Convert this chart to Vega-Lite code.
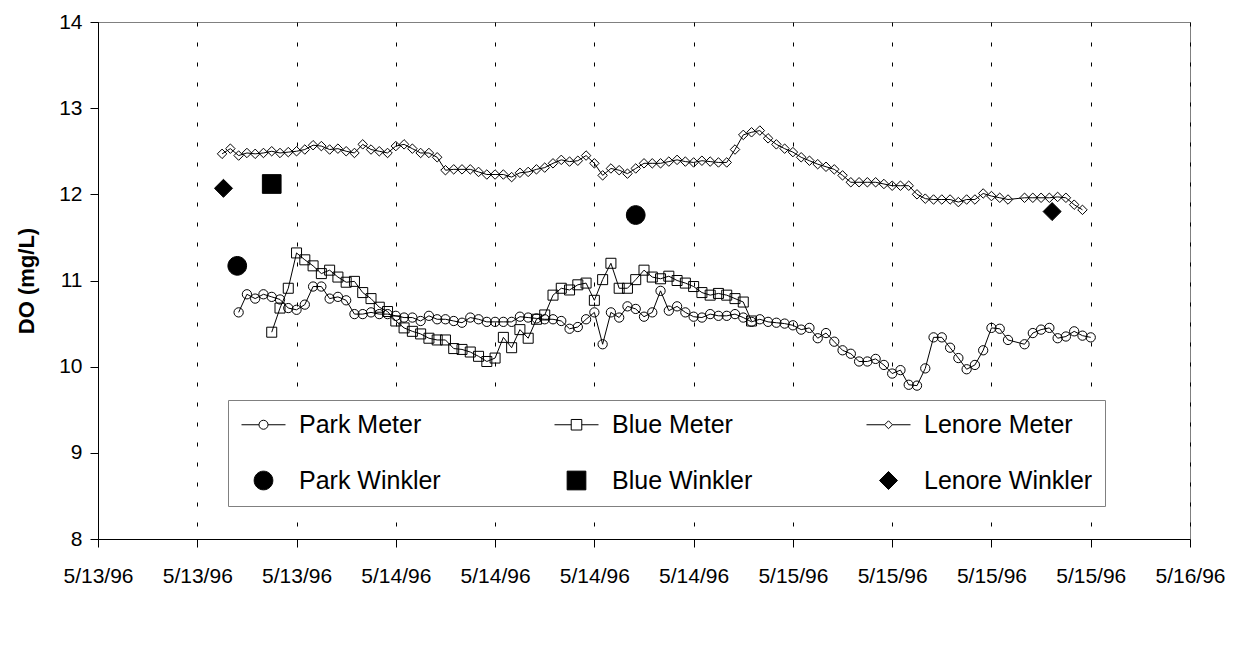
{
  "$schema": "https://vega.github.io/schema/vega-lite/v6.json",
  "width": 1092,
  "height": 517,
  "autosize": {"type": "none"},
  "padding": {"left": 98, "top": 22, "right": 46, "bottom": 106},
  "background": "white",
  "config": {
    "font": "Liberation Sans",
    "view": {"stroke": "#808080", "strokeWidth": 1}
  },
  "datasets": {
    "meter": [
      {"t": "1996-05-13T13:30", "v": 12.47, "s": "Lenore Meter"},
      {"t": "1996-05-13T14:00", "v": 12.53, "s": "Lenore Meter"},
      {"t": "1996-05-13T14:30", "v": 12.45, "s": "Lenore Meter"},
      {"t": "1996-05-13T15:00", "v": 12.48, "s": "Lenore Meter"},
      {"t": "1996-05-13T15:30", "v": 12.47, "s": "Lenore Meter"},
      {"t": "1996-05-13T16:00", "v": 12.48, "s": "Lenore Meter"},
      {"t": "1996-05-13T16:30", "v": 12.50, "s": "Lenore Meter"},
      {"t": "1996-05-13T17:00", "v": 12.48, "s": "Lenore Meter"},
      {"t": "1996-05-13T17:30", "v": 12.49, "s": "Lenore Meter"},
      {"t": "1996-05-13T18:00", "v": 12.50, "s": "Lenore Meter"},
      {"t": "1996-05-13T18:30", "v": 12.52, "s": "Lenore Meter"},
      {"t": "1996-05-13T19:00", "v": 12.57, "s": "Lenore Meter"},
      {"t": "1996-05-13T19:30", "v": 12.56, "s": "Lenore Meter"},
      {"t": "1996-05-13T20:00", "v": 12.52, "s": "Lenore Meter"},
      {"t": "1996-05-13T20:30", "v": 12.53, "s": "Lenore Meter"},
      {"t": "1996-05-13T21:00", "v": 12.50, "s": "Lenore Meter"},
      {"t": "1996-05-13T21:30", "v": 12.48, "s": "Lenore Meter"},
      {"t": "1996-05-13T22:00", "v": 12.58, "s": "Lenore Meter"},
      {"t": "1996-05-13T22:30", "v": 12.52, "s": "Lenore Meter"},
      {"t": "1996-05-13T23:00", "v": 12.50, "s": "Lenore Meter"},
      {"t": "1996-05-13T23:30", "v": 12.48, "s": "Lenore Meter"},
      {"t": "1996-05-14T00:00", "v": 12.56, "s": "Lenore Meter"},
      {"t": "1996-05-14T00:30", "v": 12.58, "s": "Lenore Meter"},
      {"t": "1996-05-14T01:00", "v": 12.53, "s": "Lenore Meter"},
      {"t": "1996-05-14T01:30", "v": 12.48, "s": "Lenore Meter"},
      {"t": "1996-05-14T02:00", "v": 12.48, "s": "Lenore Meter"},
      {"t": "1996-05-14T02:30", "v": 12.43, "s": "Lenore Meter"},
      {"t": "1996-05-14T03:00", "v": 12.28, "s": "Lenore Meter"},
      {"t": "1996-05-14T03:30", "v": 12.29, "s": "Lenore Meter"},
      {"t": "1996-05-14T04:00", "v": 12.29, "s": "Lenore Meter"},
      {"t": "1996-05-14T04:30", "v": 12.29, "s": "Lenore Meter"},
      {"t": "1996-05-14T05:00", "v": 12.26, "s": "Lenore Meter"},
      {"t": "1996-05-14T05:30", "v": 12.23, "s": "Lenore Meter"},
      {"t": "1996-05-14T06:00", "v": 12.23, "s": "Lenore Meter"},
      {"t": "1996-05-14T06:30", "v": 12.23, "s": "Lenore Meter"},
      {"t": "1996-05-14T07:00", "v": 12.20, "s": "Lenore Meter"},
      {"t": "1996-05-14T07:30", "v": 12.25, "s": "Lenore Meter"},
      {"t": "1996-05-14T08:00", "v": 12.26, "s": "Lenore Meter"},
      {"t": "1996-05-14T08:30", "v": 12.29, "s": "Lenore Meter"},
      {"t": "1996-05-14T09:00", "v": 12.31, "s": "Lenore Meter"},
      {"t": "1996-05-14T09:30", "v": 12.36, "s": "Lenore Meter"},
      {"t": "1996-05-14T10:00", "v": 12.40, "s": "Lenore Meter"},
      {"t": "1996-05-14T10:30", "v": 12.38, "s": "Lenore Meter"},
      {"t": "1996-05-14T11:00", "v": 12.39, "s": "Lenore Meter"},
      {"t": "1996-05-14T11:30", "v": 12.45, "s": "Lenore Meter"},
      {"t": "1996-05-14T12:00", "v": 12.36, "s": "Lenore Meter"},
      {"t": "1996-05-14T12:30", "v": 12.22, "s": "Lenore Meter"},
      {"t": "1996-05-14T13:00", "v": 12.30, "s": "Lenore Meter"},
      {"t": "1996-05-14T13:30", "v": 12.28, "s": "Lenore Meter"},
      {"t": "1996-05-14T14:00", "v": 12.24, "s": "Lenore Meter"},
      {"t": "1996-05-14T14:30", "v": 12.30, "s": "Lenore Meter"},
      {"t": "1996-05-14T15:00", "v": 12.36, "s": "Lenore Meter"},
      {"t": "1996-05-14T15:30", "v": 12.36, "s": "Lenore Meter"},
      {"t": "1996-05-14T16:00", "v": 12.36, "s": "Lenore Meter"},
      {"t": "1996-05-14T16:30", "v": 12.38, "s": "Lenore Meter"},
      {"t": "1996-05-14T17:00", "v": 12.40, "s": "Lenore Meter"},
      {"t": "1996-05-14T17:30", "v": 12.38, "s": "Lenore Meter"},
      {"t": "1996-05-14T18:00", "v": 12.37, "s": "Lenore Meter"},
      {"t": "1996-05-14T18:30", "v": 12.39, "s": "Lenore Meter"},
      {"t": "1996-05-14T19:00", "v": 12.38, "s": "Lenore Meter"},
      {"t": "1996-05-14T19:30", "v": 12.37, "s": "Lenore Meter"},
      {"t": "1996-05-14T20:00", "v": 12.37, "s": "Lenore Meter"},
      {"t": "1996-05-14T20:30", "v": 12.52, "s": "Lenore Meter"},
      {"t": "1996-05-14T21:00", "v": 12.69, "s": "Lenore Meter"},
      {"t": "1996-05-14T21:30", "v": 12.72, "s": "Lenore Meter"},
      {"t": "1996-05-14T22:00", "v": 12.74, "s": "Lenore Meter"},
      {"t": "1996-05-14T22:30", "v": 12.65, "s": "Lenore Meter"},
      {"t": "1996-05-14T23:00", "v": 12.58, "s": "Lenore Meter"},
      {"t": "1996-05-14T23:30", "v": 12.53, "s": "Lenore Meter"},
      {"t": "1996-05-15T00:00", "v": 12.49, "s": "Lenore Meter"},
      {"t": "1996-05-15T00:30", "v": 12.43, "s": "Lenore Meter"},
      {"t": "1996-05-15T01:00", "v": 12.39, "s": "Lenore Meter"},
      {"t": "1996-05-15T01:30", "v": 12.35, "s": "Lenore Meter"},
      {"t": "1996-05-15T02:00", "v": 12.32, "s": "Lenore Meter"},
      {"t": "1996-05-15T02:30", "v": 12.29, "s": "Lenore Meter"},
      {"t": "1996-05-15T03:00", "v": 12.22, "s": "Lenore Meter"},
      {"t": "1996-05-15T03:30", "v": 12.14, "s": "Lenore Meter"},
      {"t": "1996-05-15T04:00", "v": 12.14, "s": "Lenore Meter"},
      {"t": "1996-05-15T04:30", "v": 12.14, "s": "Lenore Meter"},
      {"t": "1996-05-15T05:00", "v": 12.14, "s": "Lenore Meter"},
      {"t": "1996-05-15T05:30", "v": 12.12, "s": "Lenore Meter"},
      {"t": "1996-05-15T06:00", "v": 12.10, "s": "Lenore Meter"},
      {"t": "1996-05-15T06:30", "v": 12.10, "s": "Lenore Meter"},
      {"t": "1996-05-15T07:00", "v": 12.10, "s": "Lenore Meter"},
      {"t": "1996-05-15T07:30", "v": 12.00, "s": "Lenore Meter"},
      {"t": "1996-05-15T08:00", "v": 11.95, "s": "Lenore Meter"},
      {"t": "1996-05-15T08:30", "v": 11.94, "s": "Lenore Meter"},
      {"t": "1996-05-15T09:00", "v": 11.94, "s": "Lenore Meter"},
      {"t": "1996-05-15T09:30", "v": 11.94, "s": "Lenore Meter"},
      {"t": "1996-05-15T10:00", "v": 11.91, "s": "Lenore Meter"},
      {"t": "1996-05-15T10:30", "v": 11.94, "s": "Lenore Meter"},
      {"t": "1996-05-15T11:00", "v": 11.94, "s": "Lenore Meter"},
      {"t": "1996-05-15T11:30", "v": 12.01, "s": "Lenore Meter"},
      {"t": "1996-05-15T12:00", "v": 11.98, "s": "Lenore Meter"},
      {"t": "1996-05-15T12:30", "v": 11.96, "s": "Lenore Meter"},
      {"t": "1996-05-15T13:00", "v": 11.94, "s": "Lenore Meter"},
      {"t": "1996-05-15T14:00", "v": 11.96, "s": "Lenore Meter"},
      {"t": "1996-05-15T14:30", "v": 11.96, "s": "Lenore Meter"},
      {"t": "1996-05-15T15:00", "v": 11.96, "s": "Lenore Meter"},
      {"t": "1996-05-15T15:30", "v": 11.96, "s": "Lenore Meter"},
      {"t": "1996-05-15T16:00", "v": 11.97, "s": "Lenore Meter"},
      {"t": "1996-05-15T16:30", "v": 11.96, "s": "Lenore Meter"},
      {"t": "1996-05-15T17:00", "v": 11.88, "s": "Lenore Meter"},
      {"t": "1996-05-15T17:30", "v": 11.82, "s": "Lenore Meter"},
      {"t": "1996-05-13T14:30", "v": 10.63, "s": "Park Meter"},
      {"t": "1996-05-13T15:00", "v": 10.84, "s": "Park Meter"},
      {"t": "1996-05-13T15:30", "v": 10.79, "s": "Park Meter"},
      {"t": "1996-05-13T16:00", "v": 10.84, "s": "Park Meter"},
      {"t": "1996-05-13T16:30", "v": 10.81, "s": "Park Meter"},
      {"t": "1996-05-13T17:00", "v": 10.78, "s": "Park Meter"},
      {"t": "1996-05-13T17:30", "v": 10.68, "s": "Park Meter"},
      {"t": "1996-05-13T18:00", "v": 10.66, "s": "Park Meter"},
      {"t": "1996-05-13T18:30", "v": 10.72, "s": "Park Meter"},
      {"t": "1996-05-13T19:00", "v": 10.93, "s": "Park Meter"},
      {"t": "1996-05-13T19:30", "v": 10.93, "s": "Park Meter"},
      {"t": "1996-05-13T20:00", "v": 10.79, "s": "Park Meter"},
      {"t": "1996-05-13T20:30", "v": 10.81, "s": "Park Meter"},
      {"t": "1996-05-13T21:00", "v": 10.77, "s": "Park Meter"},
      {"t": "1996-05-13T21:30", "v": 10.61, "s": "Park Meter"},
      {"t": "1996-05-13T22:00", "v": 10.61, "s": "Park Meter"},
      {"t": "1996-05-13T22:30", "v": 10.63, "s": "Park Meter"},
      {"t": "1996-05-13T23:00", "v": 10.61, "s": "Park Meter"},
      {"t": "1996-05-13T23:30", "v": 10.61, "s": "Park Meter"},
      {"t": "1996-05-14T00:00", "v": 10.59, "s": "Park Meter"},
      {"t": "1996-05-14T00:30", "v": 10.57, "s": "Park Meter"},
      {"t": "1996-05-14T01:00", "v": 10.57, "s": "Park Meter"},
      {"t": "1996-05-14T01:30", "v": 10.53, "s": "Park Meter"},
      {"t": "1996-05-14T02:00", "v": 10.59, "s": "Park Meter"},
      {"t": "1996-05-14T02:30", "v": 10.55, "s": "Park Meter"},
      {"t": "1996-05-14T03:00", "v": 10.55, "s": "Park Meter"},
      {"t": "1996-05-14T03:30", "v": 10.53, "s": "Park Meter"},
      {"t": "1996-05-14T04:00", "v": 10.51, "s": "Park Meter"},
      {"t": "1996-05-14T04:30", "v": 10.57, "s": "Park Meter"},
      {"t": "1996-05-14T05:00", "v": 10.55, "s": "Park Meter"},
      {"t": "1996-05-14T05:30", "v": 10.52, "s": "Park Meter"},
      {"t": "1996-05-14T06:00", "v": 10.52, "s": "Park Meter"},
      {"t": "1996-05-14T06:30", "v": 10.52, "s": "Park Meter"},
      {"t": "1996-05-14T07:00", "v": 10.52, "s": "Park Meter"},
      {"t": "1996-05-14T07:30", "v": 10.58, "s": "Park Meter"},
      {"t": "1996-05-14T08:00", "v": 10.57, "s": "Park Meter"},
      {"t": "1996-05-14T08:30", "v": 10.56, "s": "Park Meter"},
      {"t": "1996-05-14T09:00", "v": 10.55, "s": "Park Meter"},
      {"t": "1996-05-14T09:30", "v": 10.55, "s": "Park Meter"},
      {"t": "1996-05-14T10:00", "v": 10.53, "s": "Park Meter"},
      {"t": "1996-05-14T10:30", "v": 10.44, "s": "Park Meter"},
      {"t": "1996-05-14T11:00", "v": 10.46, "s": "Park Meter"},
      {"t": "1996-05-14T11:30", "v": 10.55, "s": "Park Meter"},
      {"t": "1996-05-14T12:00", "v": 10.63, "s": "Park Meter"},
      {"t": "1996-05-14T12:30", "v": 10.26, "s": "Park Meter"},
      {"t": "1996-05-14T13:00", "v": 10.63, "s": "Park Meter"},
      {"t": "1996-05-14T13:30", "v": 10.57, "s": "Park Meter"},
      {"t": "1996-05-14T14:00", "v": 10.70, "s": "Park Meter"},
      {"t": "1996-05-14T14:30", "v": 10.67, "s": "Park Meter"},
      {"t": "1996-05-14T15:00", "v": 10.58, "s": "Park Meter"},
      {"t": "1996-05-14T15:30", "v": 10.63, "s": "Park Meter"},
      {"t": "1996-05-14T16:00", "v": 10.88, "s": "Park Meter"},
      {"t": "1996-05-14T16:30", "v": 10.65, "s": "Park Meter"},
      {"t": "1996-05-14T17:00", "v": 10.70, "s": "Park Meter"},
      {"t": "1996-05-14T17:30", "v": 10.63, "s": "Park Meter"},
      {"t": "1996-05-14T18:00", "v": 10.58, "s": "Park Meter"},
      {"t": "1996-05-14T18:30", "v": 10.57, "s": "Park Meter"},
      {"t": "1996-05-14T19:00", "v": 10.61, "s": "Park Meter"},
      {"t": "1996-05-14T19:30", "v": 10.59, "s": "Park Meter"},
      {"t": "1996-05-14T20:00", "v": 10.59, "s": "Park Meter"},
      {"t": "1996-05-14T20:30", "v": 10.61, "s": "Park Meter"},
      {"t": "1996-05-14T21:00", "v": 10.57, "s": "Park Meter"},
      {"t": "1996-05-14T21:30", "v": 10.52, "s": "Park Meter"},
      {"t": "1996-05-14T22:00", "v": 10.55, "s": "Park Meter"},
      {"t": "1996-05-14T22:30", "v": 10.52, "s": "Park Meter"},
      {"t": "1996-05-14T23:00", "v": 10.51, "s": "Park Meter"},
      {"t": "1996-05-14T23:30", "v": 10.50, "s": "Park Meter"},
      {"t": "1996-05-15T00:00", "v": 10.48, "s": "Park Meter"},
      {"t": "1996-05-15T00:30", "v": 10.43, "s": "Park Meter"},
      {"t": "1996-05-15T01:00", "v": 10.45, "s": "Park Meter"},
      {"t": "1996-05-15T01:30", "v": 10.33, "s": "Park Meter"},
      {"t": "1996-05-15T02:00", "v": 10.39, "s": "Park Meter"},
      {"t": "1996-05-15T02:30", "v": 10.29, "s": "Park Meter"},
      {"t": "1996-05-15T03:00", "v": 10.19, "s": "Park Meter"},
      {"t": "1996-05-15T03:30", "v": 10.15, "s": "Park Meter"},
      {"t": "1996-05-15T04:00", "v": 10.06, "s": "Park Meter"},
      {"t": "1996-05-15T04:30", "v": 10.06, "s": "Park Meter"},
      {"t": "1996-05-15T05:00", "v": 10.09, "s": "Park Meter"},
      {"t": "1996-05-15T05:30", "v": 10.02, "s": "Park Meter"},
      {"t": "1996-05-15T06:00", "v": 9.92, "s": "Park Meter"},
      {"t": "1996-05-15T06:30", "v": 9.96, "s": "Park Meter"},
      {"t": "1996-05-15T07:00", "v": 9.79, "s": "Park Meter"},
      {"t": "1996-05-15T07:30", "v": 9.78, "s": "Park Meter"},
      {"t": "1996-05-15T08:00", "v": 9.98, "s": "Park Meter"},
      {"t": "1996-05-15T08:30", "v": 10.34, "s": "Park Meter"},
      {"t": "1996-05-15T09:00", "v": 10.34, "s": "Park Meter"},
      {"t": "1996-05-15T09:30", "v": 10.22, "s": "Park Meter"},
      {"t": "1996-05-15T10:00", "v": 10.10, "s": "Park Meter"},
      {"t": "1996-05-15T10:30", "v": 9.97, "s": "Park Meter"},
      {"t": "1996-05-15T11:00", "v": 10.02, "s": "Park Meter"},
      {"t": "1996-05-15T11:30", "v": 10.19, "s": "Park Meter"},
      {"t": "1996-05-15T12:00", "v": 10.45, "s": "Park Meter"},
      {"t": "1996-05-15T12:30", "v": 10.44, "s": "Park Meter"},
      {"t": "1996-05-15T13:00", "v": 10.31, "s": "Park Meter"},
      {"t": "1996-05-15T14:00", "v": 10.26, "s": "Park Meter"},
      {"t": "1996-05-15T14:30", "v": 10.39, "s": "Park Meter"},
      {"t": "1996-05-15T15:00", "v": 10.43, "s": "Park Meter"},
      {"t": "1996-05-15T15:30", "v": 10.45, "s": "Park Meter"},
      {"t": "1996-05-15T16:00", "v": 10.33, "s": "Park Meter"},
      {"t": "1996-05-15T16:30", "v": 10.35, "s": "Park Meter"},
      {"t": "1996-05-15T17:00", "v": 10.41, "s": "Park Meter"},
      {"t": "1996-05-15T17:30", "v": 10.36, "s": "Park Meter"},
      {"t": "1996-05-15T18:00", "v": 10.34, "s": "Park Meter"},
      {"t": "1996-05-13T16:30", "v": 10.40, "s": "Blue Meter"},
      {"t": "1996-05-13T17:00", "v": 10.68, "s": "Blue Meter"},
      {"t": "1996-05-13T17:30", "v": 10.91, "s": "Blue Meter"},
      {"t": "1996-05-13T18:00", "v": 11.32, "s": "Blue Meter"},
      {"t": "1996-05-13T18:30", "v": 11.24, "s": "Blue Meter"},
      {"t": "1996-05-13T19:00", "v": 11.17, "s": "Blue Meter"},
      {"t": "1996-05-13T19:30", "v": 11.08, "s": "Blue Meter"},
      {"t": "1996-05-13T20:00", "v": 11.12, "s": "Blue Meter"},
      {"t": "1996-05-13T20:30", "v": 11.04, "s": "Blue Meter"},
      {"t": "1996-05-13T21:00", "v": 10.98, "s": "Blue Meter"},
      {"t": "1996-05-13T21:30", "v": 10.99, "s": "Blue Meter"},
      {"t": "1996-05-13T22:00", "v": 10.86, "s": "Blue Meter"},
      {"t": "1996-05-13T22:30", "v": 10.79, "s": "Blue Meter"},
      {"t": "1996-05-13T23:00", "v": 10.69, "s": "Blue Meter"},
      {"t": "1996-05-13T23:30", "v": 10.64, "s": "Blue Meter"},
      {"t": "1996-05-14T00:00", "v": 10.53, "s": "Blue Meter"},
      {"t": "1996-05-14T00:30", "v": 10.45, "s": "Blue Meter"},
      {"t": "1996-05-14T01:00", "v": 10.41, "s": "Blue Meter"},
      {"t": "1996-05-14T01:30", "v": 10.38, "s": "Blue Meter"},
      {"t": "1996-05-14T02:00", "v": 10.33, "s": "Blue Meter"},
      {"t": "1996-05-14T02:30", "v": 10.31, "s": "Blue Meter"},
      {"t": "1996-05-14T03:00", "v": 10.31, "s": "Blue Meter"},
      {"t": "1996-05-14T03:30", "v": 10.21, "s": "Blue Meter"},
      {"t": "1996-05-14T04:00", "v": 10.20, "s": "Blue Meter"},
      {"t": "1996-05-14T04:30", "v": 10.17, "s": "Blue Meter"},
      {"t": "1996-05-14T05:00", "v": 10.12, "s": "Blue Meter"},
      {"t": "1996-05-14T05:30", "v": 10.06, "s": "Blue Meter"},
      {"t": "1996-05-14T06:00", "v": 10.10, "s": "Blue Meter"},
      {"t": "1996-05-14T06:30", "v": 10.34, "s": "Blue Meter"},
      {"t": "1996-05-14T07:00", "v": 10.22, "s": "Blue Meter"},
      {"t": "1996-05-14T07:30", "v": 10.43, "s": "Blue Meter"},
      {"t": "1996-05-14T08:00", "v": 10.33, "s": "Blue Meter"},
      {"t": "1996-05-14T08:30", "v": 10.55, "s": "Blue Meter"},
      {"t": "1996-05-14T09:00", "v": 10.60, "s": "Blue Meter"},
      {"t": "1996-05-14T09:30", "v": 10.83, "s": "Blue Meter"},
      {"t": "1996-05-14T10:00", "v": 10.91, "s": "Blue Meter"},
      {"t": "1996-05-14T10:30", "v": 10.89, "s": "Blue Meter"},
      {"t": "1996-05-14T11:00", "v": 10.95, "s": "Blue Meter"},
      {"t": "1996-05-14T11:30", "v": 10.97, "s": "Blue Meter"},
      {"t": "1996-05-14T12:00", "v": 10.77, "s": "Blue Meter"},
      {"t": "1996-05-14T12:30", "v": 11.01, "s": "Blue Meter"},
      {"t": "1996-05-14T13:00", "v": 11.20, "s": "Blue Meter"},
      {"t": "1996-05-14T13:30", "v": 10.91, "s": "Blue Meter"},
      {"t": "1996-05-14T14:00", "v": 10.91, "s": "Blue Meter"},
      {"t": "1996-05-14T14:30", "v": 11.01, "s": "Blue Meter"},
      {"t": "1996-05-14T15:00", "v": 11.12, "s": "Blue Meter"},
      {"t": "1996-05-14T15:30", "v": 11.04, "s": "Blue Meter"},
      {"t": "1996-05-14T16:00", "v": 11.02, "s": "Blue Meter"},
      {"t": "1996-05-14T16:30", "v": 11.05, "s": "Blue Meter"},
      {"t": "1996-05-14T17:00", "v": 11.00, "s": "Blue Meter"},
      {"t": "1996-05-14T17:30", "v": 10.97, "s": "Blue Meter"},
      {"t": "1996-05-14T18:00", "v": 10.93, "s": "Blue Meter"},
      {"t": "1996-05-14T18:30", "v": 10.86, "s": "Blue Meter"},
      {"t": "1996-05-14T19:00", "v": 10.83, "s": "Blue Meter"},
      {"t": "1996-05-14T19:30", "v": 10.85, "s": "Blue Meter"},
      {"t": "1996-05-14T20:00", "v": 10.83, "s": "Blue Meter"},
      {"t": "1996-05-14T20:30", "v": 10.79, "s": "Blue Meter"},
      {"t": "1996-05-14T21:00", "v": 10.75, "s": "Blue Meter"},
      {"t": "1996-05-14T21:30", "v": 10.53, "s": "Blue Meter"}
    ],
    "wink": [
      {"t": "1996-05-13T14:25", "v": 11.17, "s": "Park Winkler"},
      {"t": "1996-05-14T14:30", "v": 11.76, "s": "Park Winkler"},
      {"t": "1996-05-13T16:30", "v": 12.12, "s": "Blue Winkler"},
      {"t": "1996-05-13T13:35", "v": 12.07, "s": "Lenore Winkler"},
      {"t": "1996-05-15T15:40", "v": 11.80, "s": "Lenore Winkler"}
    ]
  },
  "encoding": {
    "x": {
      "field": "t",
      "type": "temporal",
      "scale": {
        "domain": [
          {"year": 1996, "month": 5, "date": 13, "hours": 6},
          {"year": 1996, "month": 5, "date": 16, "hours": 0}
        ]
      },
      "axis": {
        "orient": "bottom",
        "title": null,
        "values": [
          {"year": 1996, "month": 5, "date": 13, "hours": 6},
          {"year": 1996, "month": 5, "date": 13, "hours": 12},
          {"year": 1996, "month": 5, "date": 13, "hours": 18},
          {"year": 1996, "month": 5, "date": 14, "hours": 0},
          {"year": 1996, "month": 5, "date": 14, "hours": 6},
          {"year": 1996, "month": 5, "date": 14, "hours": 12},
          {"year": 1996, "month": 5, "date": 14, "hours": 18},
          {"year": 1996, "month": 5, "date": 15, "hours": 0},
          {"year": 1996, "month": 5, "date": 15, "hours": 6},
          {"year": 1996, "month": 5, "date": 15, "hours": 12},
          {"year": 1996, "month": 5, "date": 15, "hours": 18},
          {"year": 1996, "month": 5, "date": 16, "hours": 0}
        ],
        "format": "%-m/%-d/%y",
        "labelOverlap": false,
        "labelFlush": false,
        "domainColor": "black",
        "tickColor": "black",
        "tickSize": 8,
        "labelFontSize": 21,
        "labelColor": "black",
        "labelPadding": 18,
        "grid": true,
        "gridColor": "black",
        "gridDash": [4, 16]
      }
    },
    "y": {
      "field": "v",
      "type": "quantitative",
      "scale": {"domain": [8, 14], "nice": false, "zero": false},
      "axis": {
        "orient": "left",
        "values": [8, 9, 10, 11, 12, 13, 14],
        "title": "DO (mg/L)",
        "titleFontSize": 22,
        "titleFontWeight": "bold",
        "titleColor": "black",
        "titlePadding": 20,
        "domainColor": "black",
        "tickColor": "black",
        "tickSize": 8,
        "labelFontSize": 21,
        "labelColor": "black",
        "labelPadding": 8,
        "grid": false
      }
    }
  },
  "layer": [
    {
      "data": {"name": "meter"},
      "mark": {"type": "line", "stroke": "black", "strokeWidth": 1},
      "encoding": {"detail": {"field": "s"}}
    },
    {
      "data": {"name": "meter"},
      "transform": [{"filter": "datum.s == 'Park Meter'"}],
      "mark": {"type": "point", "shape": "circle", "size": 86, "filled": false, "color": "black", "strokeWidth": 1, "opacity": 1}
    },
    {
      "data": {"name": "meter"},
      "transform": [{"filter": "datum.s == 'Blue Meter'"}],
      "mark": {"type": "point", "shape": "square", "size": 100, "filled": false, "color": "black", "strokeWidth": 1, "opacity": 1}
    },
    {
      "data": {"name": "meter"},
      "transform": [{"filter": "datum.s == 'Lenore Meter'"}],
      "mark": {"type": "point", "shape": "diamond", "size": 90, "filled": false, "color": "black", "strokeWidth": 1, "opacity": 1}
    },
    {
      "data": {"name": "wink"},
      "mark": {"type": "point", "filled": true, "size": 484, "strokeWidth": 1, "opacity": 1},
      "encoding": {
        "shape": {
          "field": "s",
          "type": "nominal",
          "scale": {
            "domain": ["Park Meter", "Blue Meter", "Lenore Meter", "Park Winkler", "Blue Winkler", "Lenore Winkler"],
            "range": [
              "M-2,0L-0.41,0M0.41,0L2,0M0.41,0A0.41,0.41,0,1,1,-0.41,0A0.41,0.41,0,1,1,0.41,0Z",
              "M-2,0L-0.48,0M0.48,0L2,0M-0.48,-0.48L0.48,-0.48L0.48,0.48L-0.48,0.48Z",
              "M-2,0L-0.36,0M0.36,0L2,0M0,-0.36L0.36,0L0,0.36L-0.36,0Z",
              "M0.85,0A0.85,0.85,0,1,1,-0.85,0A0.85,0.85,0,1,1,0.85,0Z",
              "M-0.85,-0.85L0.85,-0.85L0.85,0.85L-0.85,0.85Z",
              "M0,-0.82L0.82,0L0,0.82L-0.82,0Z"
            ]
          },
          "legend": {
            "orient": "none",
            "legendX": 130,
            "legendY": 378,
            "columns": 3,
            "direction": "horizontal",
            "title": null,
            "padding": 12,
            "strokeColor": "#808080",
            "fillColor": "white",
            "labelFontSize": 25,
            "labelColor": "black",
            "labelFont": "Liberation Sans",
            "symbolSize": 484,
            "symbolStrokeColor": "black",
            "symbolStrokeWidth": 1,
            "symbolOffset": 11,
            "labelOffset": 23,
            "columnPadding": 111,
            "rowPadding": 30,
            "labelLimit": 400
          }
        },
        "fill": {
          "field": "s",
          "type": "nominal",
          "scale": {
            "domain": ["Park Meter", "Blue Meter", "Lenore Meter", "Park Winkler", "Blue Winkler", "Lenore Winkler"],
            "range": ["white", "white", "white", "black", "black", "black"]
          }
        },
        "stroke": {
          "field": "s",
          "type": "nominal",
          "scale": {
            "domain": ["Park Meter", "Blue Meter", "Lenore Meter", "Park Winkler", "Blue Winkler", "Lenore Winkler"],
            "range": ["black", "black", "black", "black", "black", "black"]
          }
        }
      }
    }
  ]
}
